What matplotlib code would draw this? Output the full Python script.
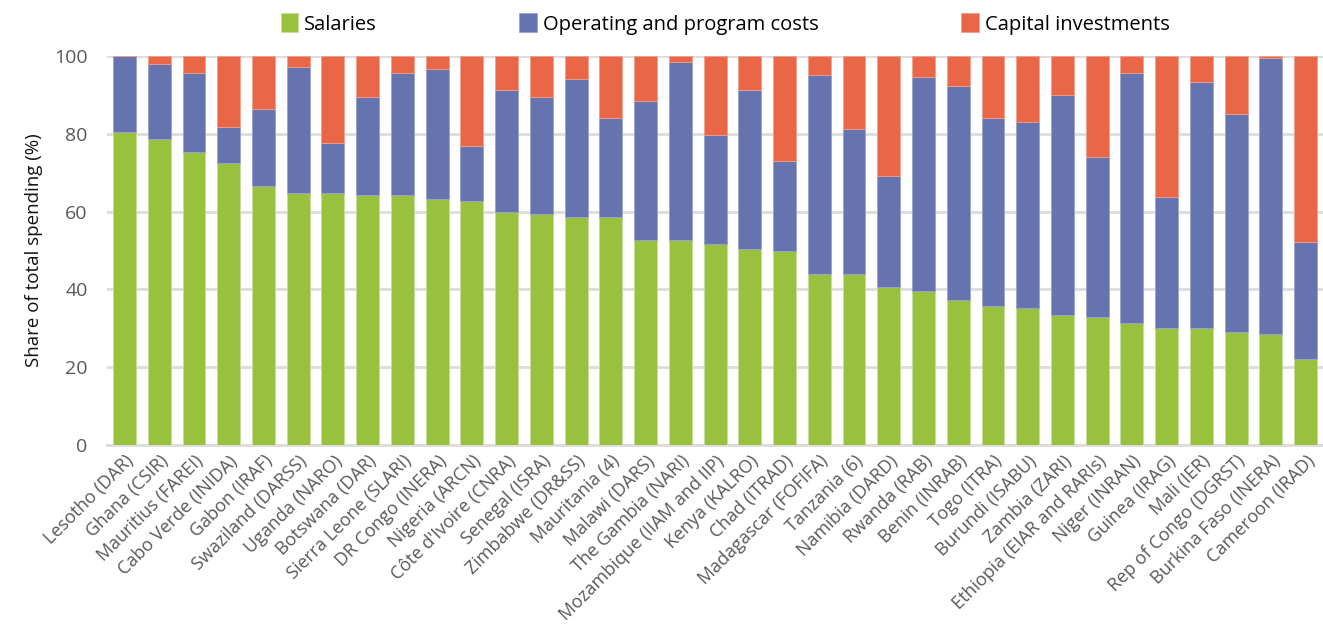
import matplotlib.pyplot as plt
import numpy as np

plt.rcParams['font.family'] = ['Open Sans', 'DejaVu Sans']

# Institutes, ordered as in the chart
institutes = [
    "Lesotho (DAR)", "Ghana (CSIR)", "Mauritius (FAREI)", "Cabo Verde (INIDA)",
    "Gabon (IRAF)", "Swaziland (DARSS)", "Uganda (NARO)", "Botswana (DAR)",
    "Sierra Leone (SLARI)", "DR Congo (INERA)", "Nigeria (ARCN)",
    "Côte d'Ivoire (CNRA)", "Senegal (ISRA)", "Zimbabwe (DR&SS)",
    "Mauritania (4)", "Malawi (DARS)", "The Gambia (NARI)",
    "Mozambique (IIAM and IIP)", "Kenya (KALRO)", "Chad (ITRAD)",
    "Madagascar (FOFIFA)", "Tanzania (6)", "Namibia (DARD)", "Rwanda (RAB)",
    "Benin (INRAB)", "Togo (ITRA)", "Burundi (ISABU)", "Zambia (ZARI)",
    "Ethiopia (EIAR and RARIs)", "Niger (INRAN)", "Guinea (IRAG)",
    "Mali (IER)", "Rep of Congo (DGRST)", "Burkina Faso (INERA)",
    "Cameroon (IRAD)",
]

# Share of total spending (%)
salaries = [
    80.3, 78.7, 75.4, 72.5, 66.6, 64.8, 64.8, 64.3, 64.3, 63.3, 62.8,
    59.9, 59.4, 58.5, 58.5, 52.7, 52.7, 51.7, 50.3, 49.8, 44.0, 44.0,
    40.7, 39.6, 37.3, 35.8, 35.3, 33.4, 32.9, 31.4, 30.0, 30.0, 29.1,
    28.6, 22.2,
]
# cumulative top of salaries + operating
sal_plus_ops = [
    100.0, 97.9, 95.6, 81.6, 86.4, 97.1, 77.7, 89.4, 95.6, 96.6, 76.8,
    91.3, 89.4, 94.1, 84.0, 88.3, 98.5, 79.6, 91.3, 73.0, 95.1, 81.1,
    69.0, 94.6, 92.2, 84.0, 83.0, 89.9, 73.9, 95.6, 63.7, 93.2, 85.1,
    99.4, 52.1,
]

salaries = np.array(salaries)
operating = np.array(sal_plus_ops) - salaries
capital = 100.0 - np.array(sal_plus_ops)

green = '#98c13d'
blue = '#6574af'
orange = '#e96646'
tick_col = '#595959'

fig = plt.figure(figsize=(13.23, 6.34), dpi=100)
ax = fig.add_axes([0.081, 0.298, 0.919, 0.614])

x = np.arange(len(institutes))
w = 0.66
ax.bar(x, salaries, w, color=green, edgecolor='#c9dd9f', linewidth=0.6,
       label='Salaries', zorder=3)
ax.bar(x, operating, w, bottom=salaries, color=blue, edgecolor='#9aa3cc',
       linewidth=0.6, label='Operating and program costs', zorder=3)
ax.bar(x, capital, w, bottom=salaries + operating, color=orange,
       edgecolor='#f0a08c', linewidth=0.6, label='Capital investments',
       zorder=3)

ax.set_xlim(-0.5, len(institutes) - 0.5)
ax.set_ylim(0, 100)
ax.set_yticks([0, 20, 40, 60, 80, 100])
ax.yaxis.grid(True, color='#dcdcdc', linewidth=2.0, zorder=0)
ax.set_axisbelow(True)
for s in ['top', 'right', 'left']:
    ax.spines[s].set_visible(False)
ax.spines['bottom'].set_color('#dcdcdc')
ax.spines['bottom'].set_linewidth(2.0)
ax.tick_params(axis='both', length=0, colors=tick_col)
ax.tick_params(axis='y', labelsize=14, pad=14)

ax.set_xticks(x)
ax.set_xticklabels(institutes, rotation=45, ha='right',
                   rotation_mode='anchor', fontsize=13, color=tick_col)
ax.tick_params(axis='x', pad=5)

ax.set_ylabel('Share of total spending (%)', fontsize=13.5, color='#111111',
              labelpad=8)

fig.legend(loc='upper center', bbox_to_anchor=(0.548, 1.008), ncol=3,
           frameon=False, fontsize=14.5, handlelength=0.85, handleheight=1.1,
           handletextpad=0.3, columnspacing=7.1)

fig.savefig('out.png', dpi=100)
